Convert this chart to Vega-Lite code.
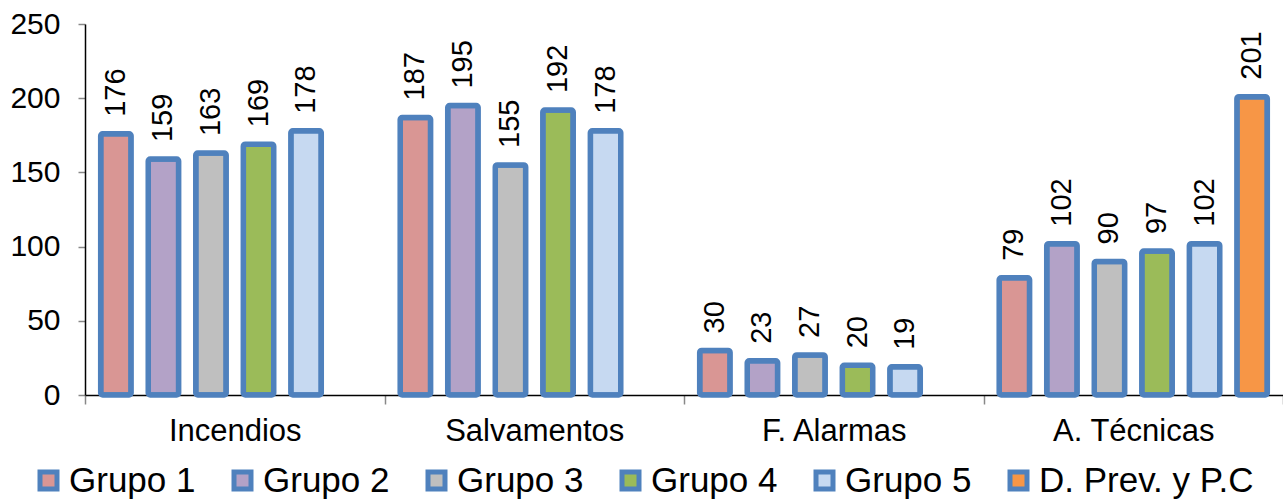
{
  "$schema": "https://vega.github.io/schema/vega-lite/v6.json",
  "width": 1198,
  "height": 371,
  "autosize": "none",
  "padding": {"left": 85, "top": 24, "right": 0, "bottom": 104},
  "background": "white",
  "config": {"view": {"stroke": null}, "font": "Liberation Sans"},
  "data": {
    "values": [
      {"categoria": "Incendios", "serie": "Grupo 1", "valor": 176},
      {"categoria": "Incendios", "serie": "Grupo 2", "valor": 159},
      {"categoria": "Incendios", "serie": "Grupo 3", "valor": 163},
      {"categoria": "Incendios", "serie": "Grupo 4", "valor": 169},
      {"categoria": "Incendios", "serie": "Grupo 5", "valor": 178},
      {"categoria": "Salvamentos", "serie": "Grupo 1", "valor": 187},
      {"categoria": "Salvamentos", "serie": "Grupo 2", "valor": 195},
      {"categoria": "Salvamentos", "serie": "Grupo 3", "valor": 155},
      {"categoria": "Salvamentos", "serie": "Grupo 4", "valor": 192},
      {"categoria": "Salvamentos", "serie": "Grupo 5", "valor": 178},
      {"categoria": "F. Alarmas", "serie": "Grupo 1", "valor": 30},
      {"categoria": "F. Alarmas", "serie": "Grupo 2", "valor": 23},
      {"categoria": "F. Alarmas", "serie": "Grupo 3", "valor": 27},
      {"categoria": "F. Alarmas", "serie": "Grupo 4", "valor": 20},
      {"categoria": "F. Alarmas", "serie": "Grupo 5", "valor": 19},
      {"categoria": "A. Técnicas", "serie": "Grupo 1", "valor": 79},
      {"categoria": "A. Técnicas", "serie": "Grupo 2", "valor": 102},
      {"categoria": "A. Técnicas", "serie": "Grupo 3", "valor": 90},
      {"categoria": "A. Técnicas", "serie": "Grupo 4", "valor": 97},
      {"categoria": "A. Técnicas", "serie": "Grupo 5", "valor": 102},
      {"categoria": "A. Técnicas", "serie": "D. Prev. y P.C", "valor": 201}
    ]
  },
  "encoding": {
    "x": {
      "field": "categoria",
      "type": "nominal",
      "sort": ["Incendios", "Salvamentos", "F. Alarmas", "A. Técnicas"],
      "scale": {"paddingInner": 0, "paddingOuter": 0},
      "axis": {
        "title": null,
        "labelAngle": 0,
        "labelFontSize": 31,
        "labelColor": "black",
        "domainColor": "black",
        "domainWidth": 1.5,
        "tickBand": "extent",
        "tickColor": "#888888",
        "tickWidth": 1.5,
        "tickSize": 9,
        "labelPadding": 12
      }
    },
    "xOffset": {
      "field": "serie",
      "type": "nominal",
      "sort": ["Grupo 1", "Grupo 2", "Grupo 3", "Grupo 4", "Grupo 5", "D. Prev. y P.C"],
      "scale": {"paddingInner": 0.36, "paddingOuter": 0.33}
    },
    "y": {
      "field": "valor",
      "type": "quantitative",
      "scale": {"domain": [0, 250]},
      "axis": {
        "title": null,
        "values": [0, 50, 100, 150, 200, 250],
        "grid": false,
        "labelFontSize": 30,
        "labelColor": "black",
        "tickSize": 7,
        "tickColor": "#888888",
        "tickWidth": 1.5,
        "labelPadding": 18,
        "domainColor": "black",
        "domainWidth": 1.5
      }
    }
  },
  "layer": [
    {
      "mark": {"type": "bar", "stroke": "#4F81BD", "strokeWidth": 5.5, "cornerRadius": 2},
      "encoding": {
        "color": {
          "field": "serie",
          "type": "nominal",
          "sort": ["Grupo 1", "Grupo 2", "Grupo 3", "Grupo 4", "Grupo 5", "D. Prev. y P.C"],
          "scale": {
            "domain": ["Grupo 1", "Grupo 2", "Grupo 3", "Grupo 4", "Grupo 5", "D. Prev. y P.C"],
            "range": ["#D99694", "#B3A2C7", "#BFBFBF", "#9BBB59", "#C6D9F1", "#F79646"]
          },
          "legend": {
            "title": null,
            "orient": "none",
            "direction": "horizontal",
            "legendX": -54,
            "legendY": 439,
            "symbolType": "square",
            "symbolSize": 289,
            "symbolStrokeColor": "#4F81BD",
            "symbolStrokeWidth": 5,
            "symbolOpacity": 1,
            "labelFontSize": 35,
            "labelColor": "black",
            "labelOffset": 3,
            "columnPadding": 28,
            "labelLimit": 400
          }
        }
      }
    },
    {
      "mark": {"type": "text", "angle": -90, "align": "left", "baseline": "middle", "dx": 17, "fontSize": 29, "color": "black"},
      "encoding": {
        "text": {"field": "valor", "type": "quantitative"}
      }
    }
  ]
}
